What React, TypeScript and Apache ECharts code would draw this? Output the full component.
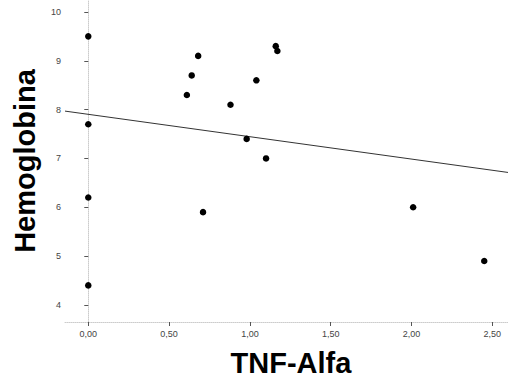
import React, { useEffect, useRef } from "react";
import * as echarts from "echarts";

const tnfAlfa = [0, 0, 0, 0, 0.61, 0.64, 0.68, 0.71, 0.88, 0.98, 1.04, 1.1, 1.16, 1.17, 2.01, 2.45];
const hemoglobina = [9.5, 7.7, 6.2, 4.4, 8.3, 8.7, 9.1, 5.9, 8.1, 7.4, 8.6, 7.0, 9.3, 9.2, 6.0, 4.9];
const xTicks = [0, 0.5, 1, 1.5, 2, 2.5];
const yTicks = [4, 5, 6, 7, 8, 9, 10];

const X_MIN = -0.144;
const X_MAX = 2.597;
const Y_MIN = 3.65;
const Y_MAX = 10.245;

function fitLine(xs: number[], ys: number[]) {
  const n = xs.length;
  const mx = xs.reduce((a, b) => a + b, 0) / n;
  const my = ys.reduce((a, b) => a + b, 0) / n;
  let sxy = 0, sxx = 0;
  for (let i = 0; i < n; i++) {
    sxy += (xs[i] - mx) * (ys[i] - my);
    sxx += (xs[i] - mx) * (xs[i] - mx);
  }
  const slope = sxy / sxx;
  const intercept = my - slope * mx;
  return { slope, intercept };
}

export default function App() {
  const ref = useRef<HTMLDivElement>(null);
  useEffect(() => {
    if (!ref.current) return;
    const chart = echarts.init(ref.current, null, { renderer: "svg" });
    const { slope, intercept } = fitLine(tnfAlfa, hemoglobina);
    const font = "'Liberation Sans', Arial, sans-serif";
    chart.setOption({
      animation: false,
      backgroundColor: "#ffffff",
      grid: { left: 65, right: 0, top: 0, bottom: 61, containLabel: false },
      xAxis: {
        type: "value",
        min: X_MIN,
        max: X_MAX,
        name: "TNF-Alfa",
        nameLocation: "middle",
        nameGap: 26,
        nameTextStyle: { fontFamily: font, fontWeight: "bold", fontSize: 29, color: "#000", padding: [0, 0, 0, 9] },
        axisLine: { show: true, lineStyle: { color: "#cccccc", type: "dotted", width: 1 } },
        axisTick: { show: true, customValues: xTicks, length: 4, lineStyle: { color: "#555" } },
        axisLabel: {
          customValues: xTicks,
          margin: 7,
          fontFamily: font,
          fontSize: 9,
          color: "#444",
          formatter: (v: number) => v.toFixed(2).replace(".", ","),
        },
        splitLine: { show: false },
      },
      yAxis: {
        type: "value",
        min: Y_MIN,
        max: Y_MAX,
        name: "Hemoglobina",
        nameLocation: "middle",
        nameRotate: 90,
        nameGap: 26,
        nameTextStyle: { fontFamily: font, fontWeight: "bold", fontSize: 29, color: "#000" },
        axisLine: { show: true, lineStyle: { color: "#cccccc", type: "dotted", width: 1 } },
        axisTick: { show: true, customValues: yTicks, length: 4, lineStyle: { color: "#555" } },
        axisLabel: {
          customValues: yTicks,
          margin: 4,
          fontFamily: font,
          fontSize: 9,
          color: "#444",
        },
        splitLine: { show: false },
      },
      series: [
        {
          type: "line",
          data: [
            [X_MIN, intercept + slope * X_MIN],
            [X_MAX, intercept + slope * X_MAX],
          ],
          symbol: "none",
          lineStyle: { color: "#333", width: 1 },
          silent: true,
          z: 1,
        },
        {
          type: "scatter",
          data: tnfAlfa.map((x, i) => [x, hemoglobina[i]]),
          symbol: "circle",
          symbolSize: 6.5,
          itemStyle: { color: "#000", opacity: 1 },
          z: 2,
        },
      ],
    });
    return () => chart.dispose();
  }, []);
  return <div ref={ref} style={{ width: 508, height: 383, position: "absolute", left: 0, top: 0 }} />;
}
